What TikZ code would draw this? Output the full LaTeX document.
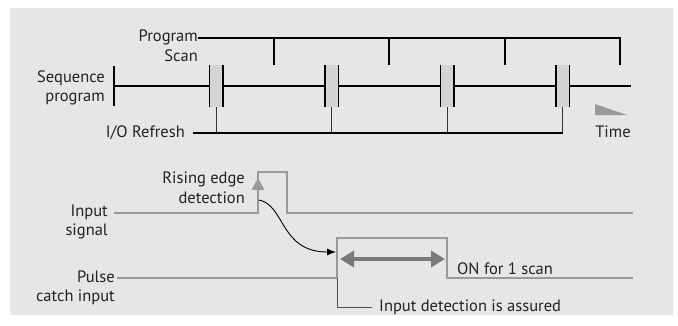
\documentclass[tikz,border=0pt]{standalone}
\usepackage{fontspec}
\setmainfont{PT Sans}
\usetikzlibrary{arrows.meta}
\definecolor{panel}{HTML}{E6E6E6}
\definecolor{sigline}{HTML}{9A9A9A}
\definecolor{darkarrow}{HTML}{7A7A7A}
\definecolor{refresh}{HTML}{D4D4D4}
\definecolor{ink}{HTML}{222222}

\begin{document}
\begin{tikzpicture}[x=1pt, y=-1pt, every node/.style={font=\fontsize{16.5}{19.5}\selectfont, text=ink, inner sep=0pt},
	lbl/.style={align=right, anchor=east}, rule/.style={line width=1.1pt}, sig/.style={draw=sigline, line width=2pt}]
	\useasboundingbox (0,0) rectangle (678,325);
	\fill[panel] (10,8) rectangle (673,315);
	\node[lbl] (scanlbl) at (198,46) {Program\\Scan};
	\draw[rule] (198,38) -- (620,38) -- (620,65);
	\foreach \x in {274,389,505} {
		\draw[rule] (\x,38) -- (\x,65);
	}
	\node[lbl] (seqlbl) at (105,88) {Sequence\\program};
	\draw[rule] (114,66) -- (114,106);
	\draw[rule] (114,86) -- (631,86);
	\foreach \x in {209.5,325,440.5,556} {
		\fill[refresh] (\x,65) rectangle ++(13.5,42);
		\draw[rule] (\x,65) -- (\x,107) (\x+13.5,65) -- (\x+13.5,107);
		\draw[rule, black!80] (\x+6.75,107) -- (\x+6.75,133);
	}
	\draw[rule] (193,133) -- (562.75,133);
	\node[anchor=east] (iolbl) at (185,133) {I/O Refresh};
	\fill[sigline] (595,104) -- (627,115) -- (595,115) -- cycle;
	\node (timelbl) at (613,132) {Time};
	\node[lbl] (risinglbl) at (245,188) {Rising edge\\detection};
	\node[lbl] (inlbl) at (108,222) {Input\\signal};
	\node[lbl] (pulselbl) at (115,288) {Pulse\\catch input};
	\draw[sig] (114,213) -- (258,213) -- (258,172) -- (287,172) -- (287,213) -- (633,213);
	\fill[sigline] (258,178) -- (264.5,190) -- (251.5,190) -- cycle;
	\draw[sig] (117,278) -- (337,278) -- (337,238) -- (447,238) -- (447,278) -- (633,278);
	\draw[darkarrow, line width=4.5pt, {Triangle[length=14pt,width=16pt]}-{Triangle[length=14pt,width=16pt]}] (340,259) -- (445,259);
	\node[anchor=west] (onlbl) at (457,269) {ON for 1 scan};
	\coordinate (edge) at (259,200);
	\coordinate (catch) at (336,252);
	\draw[line width=0.9pt, -{Latex[length=9pt,width=7pt]}] (edge) .. controls (285,205) and (280,252) .. (catch);
	\draw[line width=0.9pt, black!70] (337,278) -- (337,307) -- (372,307);
	\node[anchor=west] (assuredlbl) at (379,307) {Input detection is assured};
\end{tikzpicture}
\end{document}
